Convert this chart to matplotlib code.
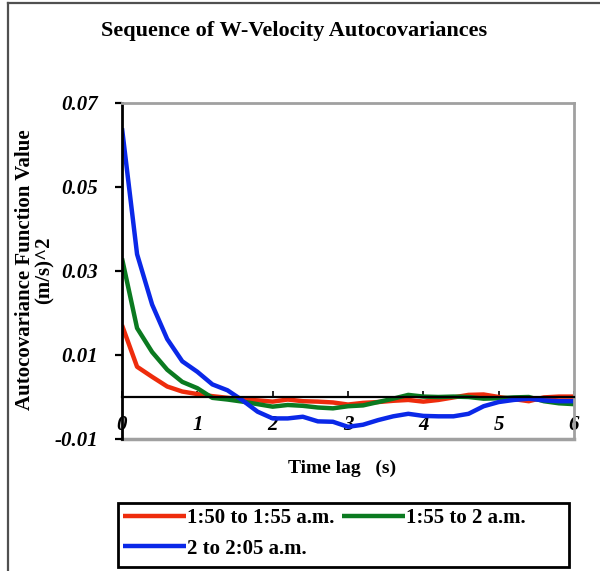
import numpy as np
import matplotlib
matplotlib.use('Agg')
import matplotlib.pyplot as plt
from matplotlib.lines import Line2D
from matplotlib.patches import Rectangle

# lag in seconds, 0.2 s step
time_lag = np.round(np.arange(0, 6.01, 0.2), 1)

acv_150 = [0.0171, 0.0072, 0.0048, 0.0025, 0.0013, 0.0007, 0.0002, -0.0002,
           -0.0006, -0.0008, -0.0011, -0.0006, -0.0010, -0.0011, -0.0013, -0.0018,
           -0.0014, -0.0012, -0.0009, -0.0007, -0.0011, -0.0007, -0.0001, 0.0005,
           0.0006, 0.0000, -0.0005, -0.0010, -0.0001, 0.0001, 0.0001]
acv_155 = [0.0330, 0.0164, 0.0107, 0.0065, 0.0036, 0.0021, -0.0002, -0.0006,
           -0.0011, -0.0017, -0.0023, -0.0019, -0.0021, -0.0025, -0.0027, -0.0022,
           -0.0020, -0.0012, -0.0004, 0.0005, 0.0001, 0.0000, 0.0001, 0.0000,
           -0.0004, -0.0003, -0.0001, 0.0000, -0.0010, -0.0015, -0.0017]
acv_200 = [0.0640, 0.0340, 0.0220, 0.0138, 0.0085, 0.0060, 0.0030, 0.0016,
           -0.0008, -0.0035, -0.0051, -0.0051, -0.0047, -0.0058, -0.0059, -0.0071,
           -0.0066, -0.0055, -0.0046, -0.0040, -0.0045, -0.0046, -0.0046, -0.0040,
           -0.0022, -0.0012, -0.0007, -0.0004, -0.0008, -0.0010, -0.0010]

series_labels = ['1:50 to 1:55 a.m.', '1:55 to 2 a.m.', '2 to 2:05 a.m.']
series_colors = ['#EE2C0C', '#0B7A20', '#0A28E8']
y_ticks = [-0.01, 0.01, 0.03, 0.05, 0.07]
x_ticks = [0, 1, 2, 3, 4, 5, 6]

plt.rcParams['font.family'] = ['Liberation Serif', 'DejaVu Serif']
plt.rcParams['font.weight'] = 'bold'

W, H = 600, 571
fig = plt.figure(figsize=(W / 100, H / 100), dpi=100)
ax = fig.add_axes([122 / W, 1 - 439 / H, 452 / W, 336 / H])

lines = []
for vals, lab, col in zip([acv_150, acv_155, acv_200], series_labels, series_colors):
    ln, = ax.plot(time_lag, vals, color=col, lw=3.2, label=lab,
                  solid_joinstyle='round', solid_capstyle='butt')
    lines.append(ln)

ax.set_xlim(0, 6)
ax.set_ylim(-0.01, 0.07)
ax.set_yticks(y_ticks)
ax.set_yticklabels(['-0.01', '0.01', '0.03', '0.05', '0.07'])
ax.set_xticks(x_ticks)
ax.set_xticklabels([str(t) for t in x_ticks])

# frame: black left axis and zero line, grey box elsewhere
ax.spines['left'].set_color('black')
ax.spines['left'].set_linewidth(2)
ax.spines['bottom'].set_position(('data', 0))
ax.spines['bottom'].set_color('black')
ax.spines['bottom'].set_linewidth(1.6)
for s in ['top', 'right']:
    ax.spines[s].set_color('#A0A0A0')
    ax.spines[s].set_linewidth(2)
ax.plot([0, 1], [0, 0], transform=ax.transAxes, color='#A0A0A0', lw=2.5,
        clip_on=False, zorder=0)

ax.tick_params(axis='y', direction='out', length=5, width=1.6, pad=12,
               labelsize=15)
ax.tick_params(axis='x', direction='in', length=4, width=1.2, pad=13,
               labelsize=15)
for t in ax.get_xticklabels() + ax.get_yticklabels():
    t.set_fontstyle('italic')
    t.set_fontweight('bold')

fig.text(294 / W, 1 - 31 / H, 'Sequence of W-Velocity Autocovariances',
         ha='center', va='center', fontsize=16, fontweight='bold')
fig.text(35 / W, 1 - 270 / H, 'Autocovariance Function Value\n(m/s)^2',
         ha='center', va='center', rotation=90, fontsize=15,
         fontweight='bold', linespacing=0.95, multialignment='center')
fig.text(342 / W, 1 - 468 / H, 'Time lag   (s)', ha='center',
         va='center', fontsize=14, fontweight='bold')

# legend filled column-wise: red, blue | green
handles = [lines[0], lines[2], lines[1]]
leg = fig.legend(handles, [h.get_label() for h in handles], ncol=2,
                 loc='upper left', bbox_to_anchor=(118 / W, 1 - 503 / H),
                 frameon=False, fontsize=15,
                 handlelength=3.0, handletextpad=0.05, columnspacing=0.4,
                 borderpad=0.25, labelspacing=0.5, borderaxespad=0)
for t in leg.get_texts():
    t.set_fontweight('bold')
fig.add_artist(Rectangle((118 / W, 1 - 567 / H), 451 / W, 64 / H,
                         transform=fig.transFigure, fill=False,
                         edgecolor='black', lw=2))

# outer chart border (cropped at right and bottom)
fig.add_artist(Line2D([8 / W, 8 / W], [0, 1 - 3 / H],
                      transform=fig.transFigure, color='#505050', lw=1.6))
fig.add_artist(Line2D([8 / W, 1], [1 - 3 / H, 1 - 3 / H],
                      transform=fig.transFigure, color='#505050', lw=1.6))

fig.savefig('out.png', dpi=100)
